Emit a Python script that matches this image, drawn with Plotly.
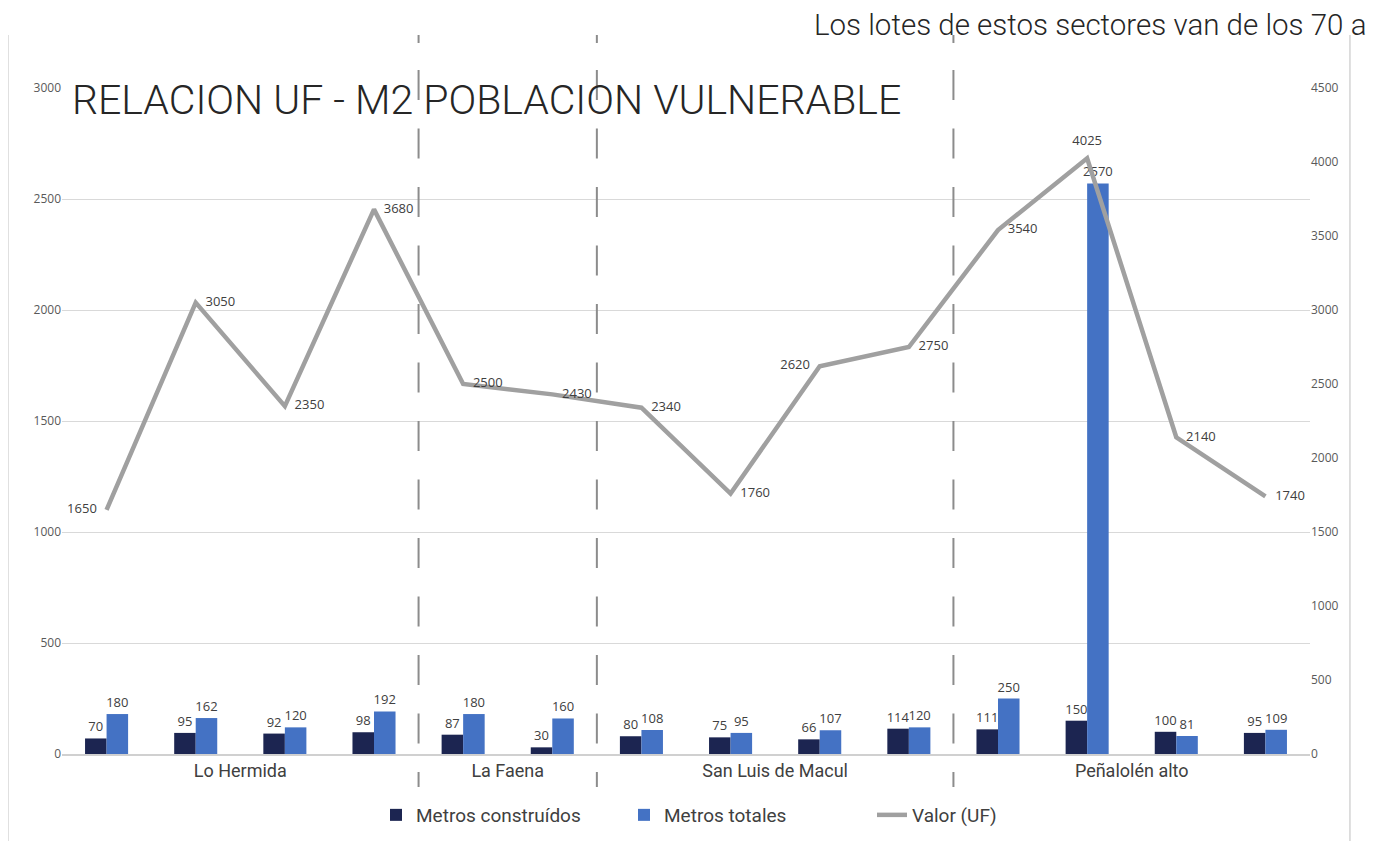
import plotly.graph_objects as go

# ---- data ----
sectors = ["Lo Hermida", "Lo Hermida", "Lo Hermida", "Lo Hermida",
           "La Faena", "La Faena",
           "San Luis de Macul", "San Luis de Macul", "San Luis de Macul", "San Luis de Macul",
           "Peñalolén alto", "Peñalolén alto", "Peñalolén alto", "Peñalolén alto"]
metros_construidos = [70, 95, 92, 98, 87, 30, 80, 75, 66, 114, 111, 150, 100, 95]
metros_totales = [180, 162, 120, 192, 180, 160, 108, 95, 107, 120, 250, 2570, 81, 109]
valor_uf = [1650, 3050, 2350, 3680, 2500, 2430, 2340, 1760, 2620, 2750, 3540, 4025, 2140, 1740]
line_label_pos = ["middle left", "middle right", "middle right", "middle right",
                  "middle right", "middle right", "middle right", "middle right",
                  "middle left", "middle right", "middle right", "top center",
                  "middle right", "middle right"]

title_text = "RELACION UF - M2 POBLACION VULNERABLE"
top_text = "Los lotes de estos sectores van de los 70 a"

# ---- derived positions ----
xs = list(range(len(sectors)))
groups = []
for i, s in enumerate(sectors):
    if not groups or groups[-1][0] != s:
        groups.append([s, i, i])
    else:
        groups[-1][2] = i
group_centers = [(g[1] + g[2]) / 2 for g in groups]
group_names = [g[0] for g in groups]
separators = [g[2] + 0.5 for g in groups[:-1]]

DARK = "#1C2551"
BLUE = "#4472C4"
GRAY = "#A0A0A0"
LABEL = "#404040"
NUMFONT = "Open Sans"
TXTFONT = "Roboto"

fig = go.Figure()
fig.add_trace(go.Bar(
    x=xs, y=metros_construidos, name="Metros construídos",
    marker=dict(color=DARK, line=dict(width=0)),
    text=metros_construidos, textposition="outside", constraintext="none",
    textfont=dict(family=NUMFONT, size=13, color=LABEL), cliponaxis=False,
))
fig.add_trace(go.Bar(
    x=xs, y=metros_totales, name="Metros totales",
    marker=dict(color=BLUE, line=dict(width=0)),
    text=metros_totales, textposition="outside", constraintext="none",
    textfont=dict(family=NUMFONT, size=13, color=LABEL), cliponaxis=False,
))
fig.add_trace(go.Scatter(
    x=xs, y=valor_uf, name="Valor (UF)", yaxis="y2", mode="lines+markers+text",
    line=dict(color=GRAY, width=4.5),
    marker=dict(size=14, color="rgba(0,0,0,0)"),
    text=valor_uf, textposition=line_label_pos,
    textfont=dict(family=NUMFONT, size=13, color=LABEL), cliponaxis=False,
))

# separators (dashed)
for sx in separators:
    fig.add_shape(type="line", xref="x", yref="paper", x0=sx, x1=sx,
                  y0=1.0796, y1=1.0676, line=dict(color="#8C8C8C", width=2))
    fig.add_shape(type="line", xref="x", yref="paper", x0=sx, x1=sx,
                  y0=1.027, y1=-0.0495, line=dict(color="#8C8C8C", width=2, dash="30px,28.5px"))

# document frame lines
for px in [-0.0433, 1.032]:
    fig.add_shape(type="line", xref="paper", yref="paper", x0=px, x1=px,
                  y0=1.0796, y1=-0.14, line=dict(color="#D4D4D4", width=1.5))

fig.add_annotation(text=title_text, xref="paper", yref="paper", x=0.0064, y=0.982,
                   xanchor="left", yanchor="middle", showarrow=False,
                   font=dict(family=TXTFONT, size=41, color="#262626", weight=300))
fig.add_annotation(text=top_text, xref="paper", yref="paper", x=1.0465, y=1.0946,
                   xanchor="right", yanchor="middle", showarrow=False,
                   font=dict(family=TXTFONT, size=29.5, color="#262626", weight=300))

fig.update_layout(
    width=1386, height=841,
    margin=dict(l=54, r=84, t=80, b=95, autoexpand=False),
    paper_bgcolor="white", plot_bgcolor="white",
    barmode="group", bargap=0.517, bargroupgap=0,
    showlegend=True,
    legend=dict(orientation="h", x=0.2516, xanchor="left", y=-0.0916, yanchor="middle",
                font=dict(family=TXTFONT, size=19, color=LABEL), entrywidth=203,
                traceorder="normal", itemwidth=30),
    xaxis=dict(range=[-0.5, len(xs) - 0.5], tickmode="array", tickvals=group_centers,
               ticktext=group_names, showgrid=False, zeroline=False,
               showline=True, linecolor="#D0D0D0", linewidth=1.5, ticks="",
               tickfont=dict(family=TXTFONT, size=18, color=LABEL)),
    yaxis=dict(range=[0, 3000], dtick=500, showgrid=True, gridcolor="#D9D9D9", gridwidth=1,
               zeroline=False, showline=False, ticks="",
               tickfont=dict(family=NUMFONT, size=12, color="#595959")),
    yaxis2=dict(range=[0, 4500], dtick=500, overlaying="y", side="right", showgrid=False,
                zeroline=False, showline=False, ticks="",
                tickfont=dict(family=NUMFONT, size=12, color="#595959")),
)

fig.write_html("out.html")
